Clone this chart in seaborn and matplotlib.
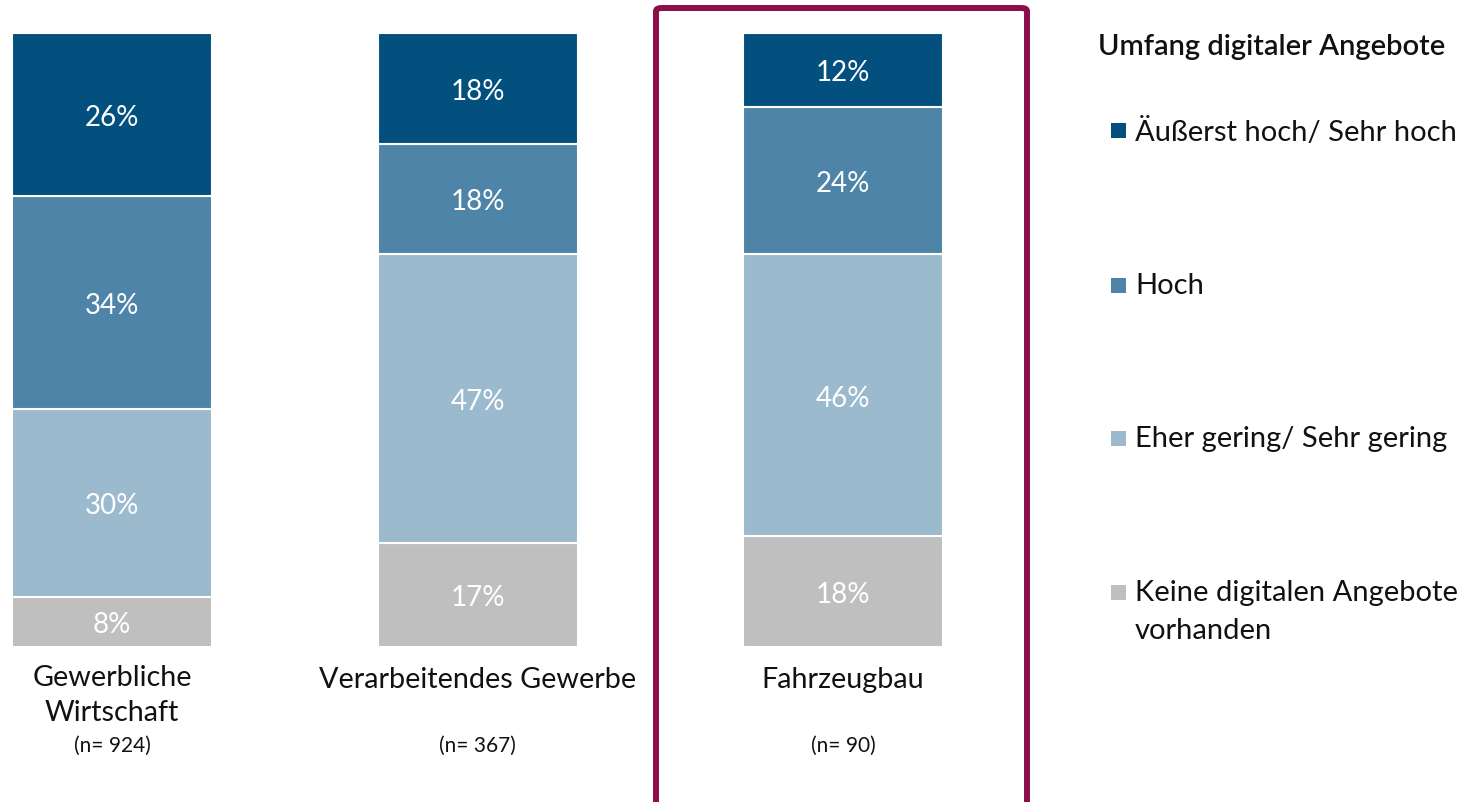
import matplotlib
matplotlib.use("Agg")
import matplotlib.pyplot as plt
import seaborn as sns
import numpy as np
from matplotlib.patches import FancyBboxPatch, Rectangle

sns.set_theme(style="white")
plt.rcParams['font.family'] = ['Lato', 'DejaVu Sans']

categories = ["Gewerbliche\nWirtschaft", "Verarbeitendes Gewerbe", "Fahrzeugbau"]
n_labels = ["(n= 924)", "(n= 367)", "(n= 90)"]
series_names = ["Keine digitalen Angebote\nvorhanden", "Eher gering/ Sehr gering", "Hoch", "Äußerst hoch/ Sehr hoch"]
keine = [8, 17, 18]
gering = [30, 47, 46]
hoch = [34, 18, 24]
sehr_hoch = [26, 18, 12]
colors = ["#BFBFBF", "#9BBACD", "#4D84A8", "#03507F"]

values = np.array([keine, gering, hoch, sehr_hoch], dtype=float)
totals = values.sum(axis=0)
heights = values / totals * 100

W, H = 1477, 803
fig = plt.figure(figsize=(W / 100, H / 100), dpi=100)
ax = fig.add_axes([0, 1 - 648 / H, 1090 / W, (648 - 34) / H])

spacing = 365.5
xs = np.arange(len(categories))
bottom = np.zeros(len(categories))
for i in range(len(series_names)):
    sns.barplot(x=xs, y=heights[i], bottom=bottom, color=colors[i], width=200 / spacing,
                edgecolor="white", linewidth=1.5, ax=ax, native_scale=True, saturation=1)
    for j in range(len(categories)):
        ax.text(xs[j], bottom[j] + heights[i][j] / 2, f"{int(values[i][j])}%",
                ha="center", va="center_baseline", color="white", fontsize=20)
    bottom = bottom + heights[i]

ax.set_xlim(-112 / spacing, (1090 - 112) / spacing)
ax.set_ylim(0, 100)
ax.axis("off")

# category labels
for j, cat in enumerate(categories):
    xf = (112 + j * spacing) / W
    yt = 665 if "\n" in cat else 667
    fig.text(xf, 1 - yt / H, cat, ha="center", va="top", fontsize=20.7, color="#111111",
             linespacing=1.45)
    fig.text(xf, 1 - 746 / H, n_labels[j], ha="center", va="center", fontsize=15, color="#111111")

# highlight frame
frame = FancyBboxPatch((656 / W, 1 - 830 / H), (1027 - 656) / W, (830 - 9) / H,
                       boxstyle="round,pad=0,rounding_size=0.004", transform=fig.transFigure,
                       fill=False, edgecolor="#8C0F4B", linewidth=4.3, clip_on=False)
fig.patches.append(frame)

# legend
fig.text(1098 / W, 1 - 47 / H, "Umfang digitaler Angebote", ha="left", va="center",
         fontsize=21, fontweight="semibold", color="#111111")
legend_y = [131, 286, 439, 593]
order = [3, 2, 1, 0]
for k, idx in enumerate(order):
    y = legend_y[k]
    sq = 15
    fig.patches.append(Rectangle((1111 / W, 1 - (y + sq / 2) / H), sq / W, sq / H,
                                 transform=fig.transFigure, facecolor=colors[idx], edgecolor="none"))
    fig.text(1135 / W, 1 - (y - 13) / H, series_names[idx], ha="left", va="top",
             fontsize=21, color="#111111", linespacing=1.55)

fig.savefig("out.png", dpi=100)
